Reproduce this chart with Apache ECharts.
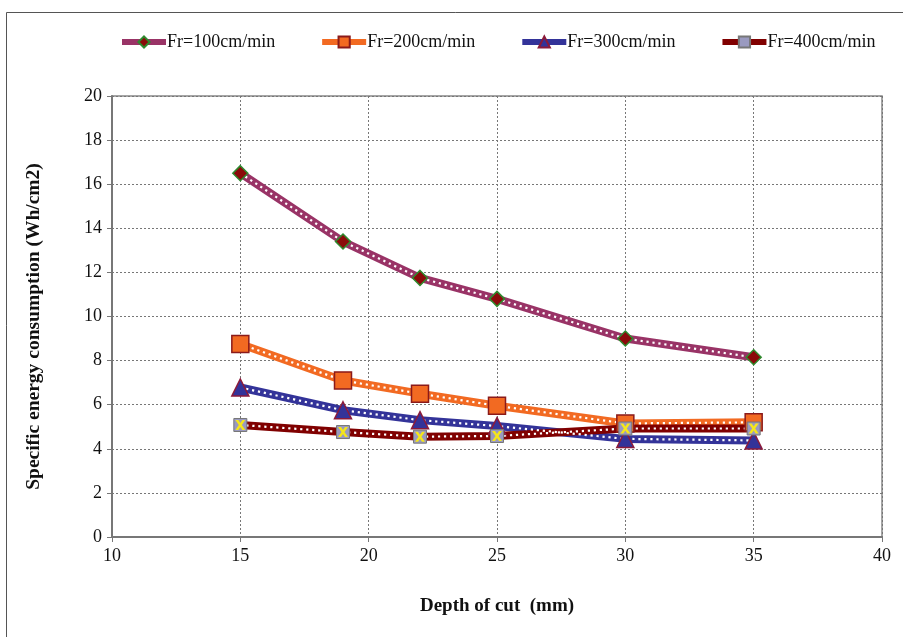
<!DOCTYPE html>
<html>
<head>
<meta charset="utf-8">
<script src="https://cdn.jsdelivr.net/npm/echarts@6/dist/echarts.min.js"></script>
<style>html,body{margin:0;padding:0;background:#fff}#c{width:903px;height:637px}</style>
</head>
<body>
<div id="c"></div>
<script>
const depth = [15, 19, 22, 25, 30, 35];
const fr100 = [16.5, 13.4, 11.75, 10.8, 9.0, 8.15];
const fr200 = [8.75, 7.1, 6.5, 5.95, 5.15, 5.2];
const fr300 = [6.78, 5.75, 5.3, 5.03, 4.45, 4.38];
const fr400 = [5.08, 4.76, 4.55, 4.58, 4.92, 4.92];
const names = ['Fr=100cm/min', 'Fr=200cm/min', 'Fr=300cm/min', 'Fr=400cm/min'];
const xTicks = [10, 15, 20, 25, 30, 35, 40];
const yTicks = [0, 2, 4, 6, 8, 10, 12, 14, 16, 18, 20];

const pts = arr => depth.map((d, i) => [d, arr[i]]);
const FONT = 'Liberation Serif';
const X_PATH = 'path://M0,0 L3,0 L5,3 L7,0 L10,0 L6.5,5 L10,10 L7,10 L5,7 L3,10 L0,10 L3.5,5 Z';

const defs = [
  {name: names[0], data: fr100, line: '#993366', symbol: 'diamond', size: 15, fill: '#8b0a0a', border: '#2e8b2e', bw: 1.5},
  {name: names[1], data: fr200, line: '#f26a22', symbol: 'rect', size: 17, fill: '#f26a22', border: '#8b1a1a', bw: 1.5},
  {name: names[2], data: fr300, line: '#333399', symbol: 'triangle', size: 17, fill: '#333399', border: '#8b1a3a', bw: 1.5},
  {name: names[3], data: fr400, line: '#800000', symbol: 'rect', size: 13, fill: '#9a9ac0', border: '#777', bw: 1}
];

const series = [];
defs.forEach(d => {
  series.push({
    name: d.name, type: 'line', data: pts(d.data), z: 2,
    symbol: d.symbol, symbolSize: d.size, showSymbol: false,
    itemStyle: {color: d.fill, borderColor: d.border, borderWidth: d.bw},
    lineStyle: {color: d.line, width: 8},
    animation: false
  });
});
defs.forEach(d => {
  series.push({
    name: d.name + ' dots', type: 'line', data: pts(d.data), z: 3,
    showSymbol: false, symbol: 'none',
    lineStyle: {color: '#ffffff', width: 2.2, type: [2.2, 3.8]},
    animation: false, silent: true
  });
});
defs.forEach(d => {
  series.push({
    name: d.name + ' marks', type: 'scatter', data: pts(d.data), z: 4,
    symbol: d.symbol, symbolSize: d.size,
    itemStyle: {color: d.fill, borderColor: d.border, borderWidth: d.bw, opacity: 1},
    animation: false, silent: true
  });
});
series.push({
  name: 'x400', type: 'scatter', data: pts(fr400), z: 5,
  symbol: X_PATH, symbolSize: 10,
  itemStyle: {color: '#f5e61a', opacity: 1},
  animation: false, silent: true
});

const chart = echarts.init(document.getElementById('c'), null, {renderer: 'canvas'});
chart.setOption({
  backgroundColor: '#fff',
  animation: false,
  graphic: [{
    type: 'rect', left: 4, top: 10, shape: {x: 0, y: 0, width: 920, height: 660},
    style: {fill: 'none', stroke: '#555', lineWidth: 1}, z: 0
  }],
  legend: {
    data: names, top: 28, left: 114, itemGap: 44,
    itemWidth: 44, itemHeight: 14,
    lineStyle: {width: 6},
    textStyle: {fontFamily: FONT, fontSize: 18, color: '#111', padding: [0, 0, 0, -4]}
  },
  grid: {left: 112, right: 21, top: 96, bottom: 100, show: true, borderColor: '#888', borderWidth: 1.5},
  xAxis: {
    type: 'value', min: 10, max: 40, interval: 5,
    name: 'Depth of cut  (mm)', nameLocation: 'middle', nameGap: 60,
    nameTextStyle: {fontFamily: FONT, fontSize: 19, fontWeight: 'bold', color: '#111'},
    axisLine: {onZero: false, lineStyle: {color: '#777', width: 2}},
    axisTick: {show: true, length: 5, lineStyle: {color: '#777'}},
    axisLabel: {fontFamily: FONT, fontSize: 18, color: '#111', margin: 10,
      formatter: v => xTicks.includes(v) ? String(v) : ''},
    splitLine: {show: true, lineStyle: {color: '#777', type: [2, 2], width: 1}}
  },
  yAxis: {
    type: 'value', min: 0, max: 20, interval: 2,
    name: 'Specific energy consumption (Wh/cm2)', nameLocation: 'middle', nameGap: 68,
    nameTextStyle: {fontFamily: FONT, fontSize: 19.5, fontWeight: 'bold', color: '#111', padding: [0, 20, 0, 0]},
    axisLine: {show: true, lineStyle: {color: '#777', width: 2}},
    axisTick: {show: true, length: 5, lineStyle: {color: '#777'}},
    axisLabel: {fontFamily: FONT, fontSize: 18, color: '#111', margin: 10,
      formatter: v => yTicks.includes(v) ? String(v) : ''},
    splitLine: {show: true, lineStyle: {color: '#777', type: [2, 2], width: 1}}
  },
  series: series
});
</script>
</body>
</html>
